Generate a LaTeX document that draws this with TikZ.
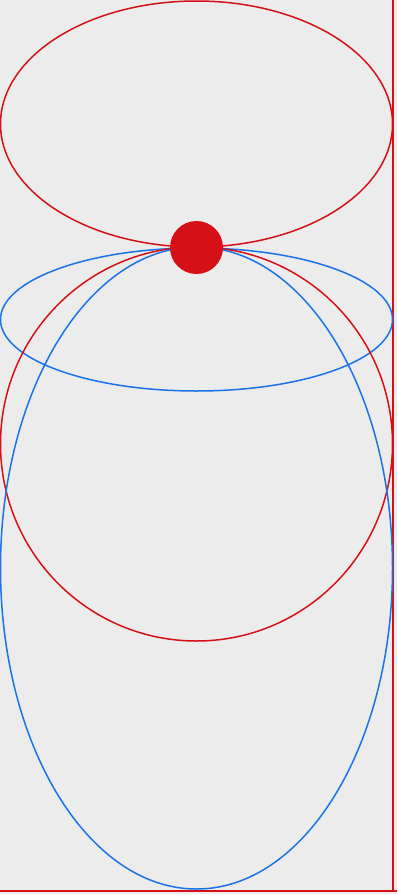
\documentclass[tikz,border=0pt]{standalone}
\usepackage{tikz}

\definecolor{bgray}{HTML}{ECECEC}
\definecolor{pinred}{HTML}{D51016}
\definecolor{lobeblue}{HTML}{1A73E8}

\tikzset{
    redline/.style={draw=pinred, line width=1.5pt},
    blueline/.style={draw=lobeblue, line width=1.5pt}
}

\begin{document}
\begin{tikzpicture}[x=1pt, y=-1pt]
    % Background
    \fill[bgray] (0,0) rectangle (397,894);
    \useasboundingbox (0,0) rectangle (397,894);

    % Frame lines (right and bottom)
    \draw[redline] (393,0) -- (393,891);
    \draw[redline] (0,891) -- (397,891);

    % Upper lobe
    \draw[redline] (196.5,124) ellipse [x radius=196, y radius=123];

    % Flat lobe
    \draw[blueline] (196.5,319.5) ellipse [x radius=196, y radius=71.5];

    % Round lobe
    \draw[redline] (196.5,444) ellipse [x radius=196, y radius=197];

    % Long lobe
    \draw[blueline] (196.5,568) ellipse [x radius=196, y radius=321];

    % Pivot point
    \fill[pinred] (196.5,247.5) circle [radius=26.5];
\end{tikzpicture}
\end{document}
